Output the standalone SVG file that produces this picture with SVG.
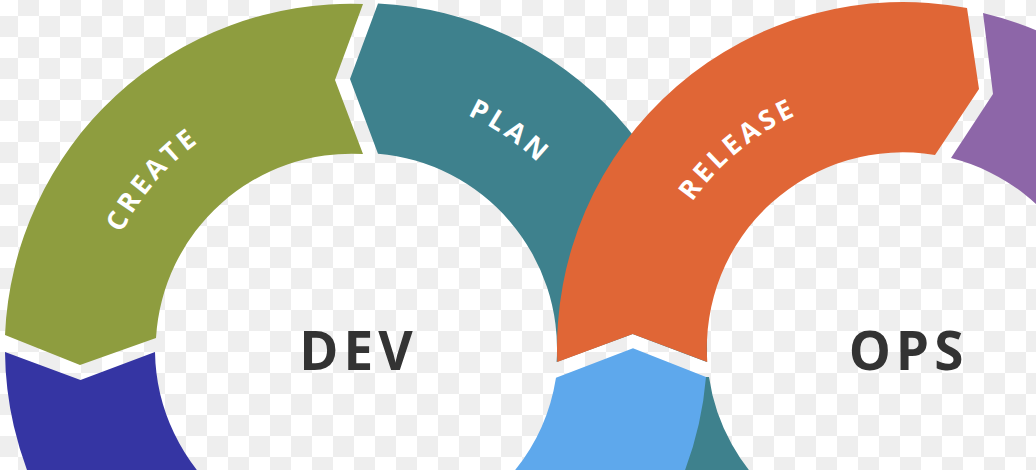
<svg xmlns="http://www.w3.org/2000/svg" width="1036" height="470" viewBox="0 0 1036 470">
<defs>
<pattern id="checker" x="18" y="16" width="42" height="42" patternUnits="userSpaceOnUse">
<rect width="42" height="42" fill="#ffffff"/>
<rect x="21" y="0" width="21" height="21" fill="#eeeeee"/>
<rect x="0" y="21" width="21" height="21" fill="#eeeeee"/>
</pattern>
<path id="arc-create" d="M94,346.8 A257,257 0 0 1 308.6,95.5"/>
<path id="arc-plan" d="M335.9,93.2 A257,257 0 0 1 608.5,279.9"/>
<path id="arc-release" d="M650.3,302.2 A257,257 0 0 1 905.2,92"/>
</defs>
<style>
.lbl{font-family:"Open Sans","Liberation Sans",sans-serif;font-weight:700;font-size:27px;fill:#ffffff;letter-spacing:4px}
.big{font-family:"Open Sans","Liberation Sans",sans-serif;font-weight:700;font-size:53px;fill:#333333;letter-spacing:5px}
</style>
<rect width="1036" height="470" fill="url(#checker)"/>
<g id="seg-plan">
<path d="M378,3.4 A346,346 0 0 1 706.8,362 L632.7,334 L556.6,362 A196,196 0 0 0 378,153.7 L350,79 Z" fill="#3e818d"/>
<path d="M705,377 L709,377 A196,196 0 0 0 777,499 L640,499 Z" fill="#3e818d"/>
<text class="lbl"><textPath href="#arc-plan" startOffset="50%" text-anchor="middle">PLAN</textPath></text>
</g>
<g id="seg-create">
<path d="M363,4 L335,80 L363,154 A196,196 0 0 0 156,338 L80,365 L5,335 A346,346 0 0 1 363,4 Z" fill="#8e9d3f"/>
<text class="lbl"><textPath href="#arc-create" startOffset="50%" text-anchor="middle">CREATE</textPath></text>
</g>
<g id="seg-verify">
<path d="M5,352 L80.5,380 L155,352 A196,196 0 0 0 225,499 L129,614 A346,346 0 0 1 5,352 Z" fill="#3535a3"/>
</g>
<g id="seg-package">
<path d="M556,377.7 L633,348.3 L706,377 A346,346 0 0 1 626,571 L511,475 A196,196 0 0 0 556,377.7 Z" fill="#5ea8ec"/>
</g>
<g id="seg-release">
<path d="M557.3,362 L632.7,334 L707.3,362 A196,196 0 0 1 935,155 L979,89 L967,8 A346,346 0 0 0 557.3,362 Z" fill="#e06636"/>
<text class="lbl"><textPath href="#arc-release" startOffset="50%" text-anchor="middle">RELEASE</textPath></text>
</g>
<g id="seg-configure">
<path d="M983,13 L993,94 L951,158 A196,196 0 0 1 1087,416 L1228,467 A346,346 0 0 0 983,13 Z" fill="#8d66a8"/>
</g>
<g id="label-dev">
<text class="big" x="358.5" y="370" text-anchor="middle">DEV</text>
</g>
<g id="label-ops">
<text class="big" x="908.5" y="370" text-anchor="middle">OPS</text>
</g>
</svg>
